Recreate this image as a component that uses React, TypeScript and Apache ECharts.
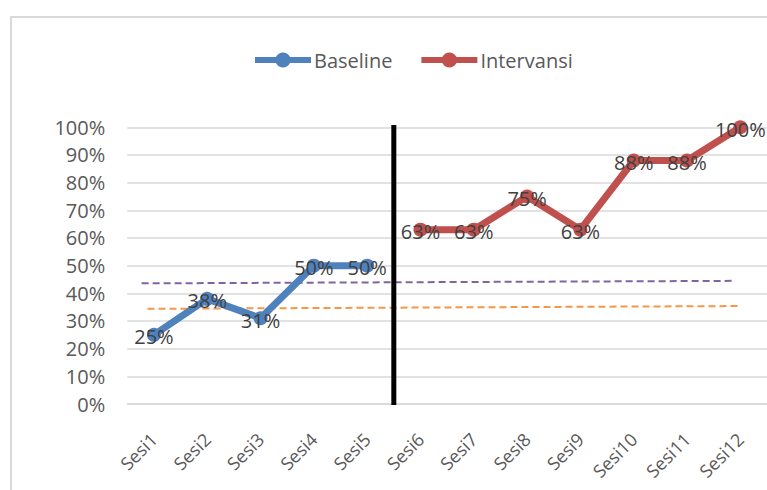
import React, { useEffect, useRef } from "react";
import * as echarts from "echarts";

const categories = ["Sesi1", "Sesi2", "Sesi3", "Sesi4", "Sesi5", "Sesi6", "Sesi7", "Sesi8", "Sesi9", "Sesi10", "Sesi11", "Sesi12"];
const baseline = [25, 38, 31, 50, 50, null, null, null, null, null, null, null];
const intervansi = [null, null, null, null, null, 63, 63, 75, 63, 88, 88, 100];
const yTicks = { min: 0, max: 100, interval: 10 };
// trend lines: [x on a 0..12 category-band scale, value %]
const purpleTrend = [[0.27, 43.6], [11.34, 44.5]];
const orangeTrend = [[0.38, 34.4], [11.47, 35.4]];
const phaseLine = [[5, 100.8], [5, -0.4]];

const FONT = "'Open Sans', sans-serif";

export default function App() {
  const ref = useRef<HTMLDivElement>(null);
  useEffect(() => {
    if (!ref.current) return;
    const chart = echarts.init(ref.current, undefined, { renderer: "svg" });
    const label = {
      show: true,
      position: "inside",
      offset: [0, 2],
      formatter: (p: any) => `${p.value}%`,
      color: "#404040",
      fontSize: 20,
      fontFamily: FONT,
    };
    chart.setOption({
      animation: false,
      backgroundColor: "#ffffff",
      graphic: [
        {
          type: "rect",
          shape: { x: 11, y: 17, width: 820, height: 500 },
          style: { fill: "none", stroke: "#d9d9d9", lineWidth: 2 },
          silent: true,
          z: -10,
        },
      ],
      legend: {
        data: ["Baseline", "Intervansi"],
        left: 252,
        top: 50,
        padding: 0,
        itemWidth: 56,
        itemHeight: 19,
        itemGap: 26,
        lineStyle: { width: 6 },
        textStyle: { color: "#595959", fontSize: 20, fontFamily: FONT, padding: [0, 0, 0, -2] },
      },
      grid: { left: 127.25, right: -2.25, top: 127.3, bottom: 86, containLabel: false },
      xAxis: [
        {
          type: "category",
          data: categories,
          axisLine: { show: true, lineStyle: { color: "#d9d9d9", width: 1.5 } },
          axisTick: { show: false },
          axisLabel: { rotate: 45, color: "#595959", fontSize: 18, fontFamily: FONT, margin: 32, interval: 0 },
        },
        { type: "value", min: 0, max: 12, show: false },
      ],
      yAxis: {
        type: "value",
        min: yTicks.min,
        max: yTicks.max,
        interval: yTicks.interval,
        axisLine: { show: false },
        axisTick: { show: false },
        splitLine: { lineStyle: { color: "#d9d9d9", width: 1.5 } },
        axisLabel: { formatter: "{value}%", color: "#595959", fontSize: 20, fontFamily: FONT, margin: 22 },
      },
      series: [
        {
          name: "Purple trend",
          type: "line",
          xAxisIndex: 1,
          data: purpleTrend,
          symbol: "none",
          lineStyle: { color: "#8064A2", width: 2, type: [7, 4] },
          silent: true,
          z: 1,
        },
        {
          name: "Orange trend",
          type: "line",
          xAxisIndex: 1,
          data: orangeTrend,
          symbol: "none",
          lineStyle: { color: "#F79646", width: 2, type: [7, 4] },
          silent: true,
          z: 1,
        },
        {
          name: "Phase",
          type: "line",
          xAxisIndex: 1,
          data: phaseLine,
          symbol: "none",
          clip: false,
          lineStyle: { color: "#000000", width: 5 },
          silent: true,
          z: 3,
        },
        {
          name: "Baseline",
          type: "line",
          data: baseline,
          symbol: "circle",
          symbolSize: 14,
          itemStyle: { color: "#4F81BD" },
          lineStyle: { color: "#4F81BD", width: 7 },
          label,
          z: 2,
        },
        {
          name: "Intervansi",
          type: "line",
          data: intervansi,
          symbol: "circle",
          symbolSize: 14,
          itemStyle: { color: "#C0504D" },
          lineStyle: { color: "#C0504D", width: 7 },
          label,
          z: 2,
        },
      ],
    });
    return () => chart.dispose();
  }, []);
  return <div ref={ref} style={{ position: "absolute", left: 0, top: 0, width: 767, height: 490 }} />;
}
